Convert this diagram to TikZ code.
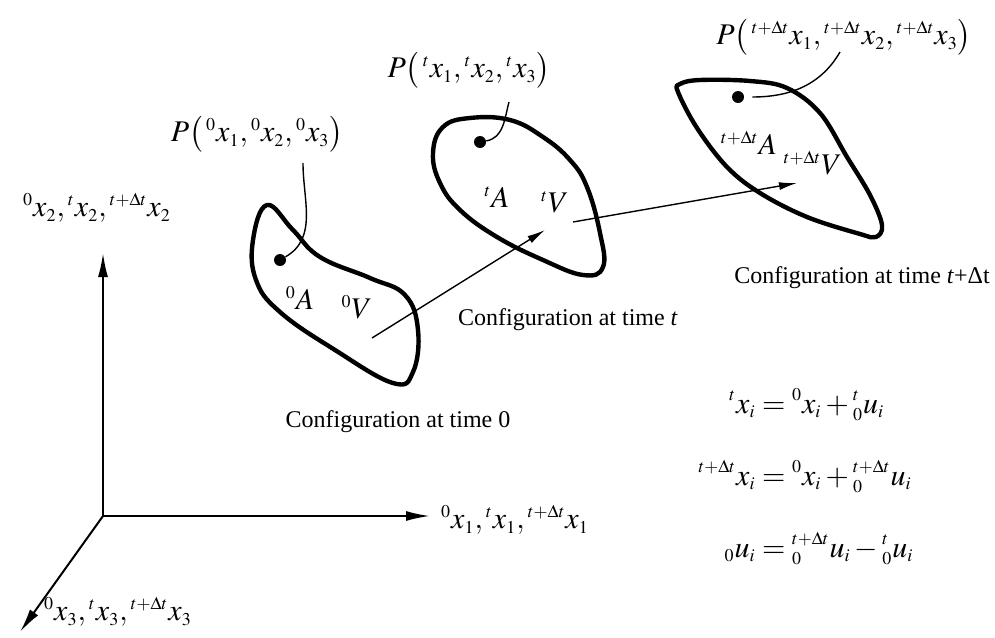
\documentclass[tikz,border=0pt]{standalone}
\usepackage{amsmath}
\usepackage{mathptmx}
\usepackage{fontspec}
\setmainfont{Liberation Serif}
\DeclareMathSizes{15}{15}{9}{7}
\usepackage{tikz}
\usetikzlibrary{arrows.meta}

\begin{document}
\begin{tikzpicture}[x=0.5pt, y=-0.5pt,
    caption/.style={font=\fontsize{12}{14}\selectfont},
    maths/.style={font=\fontsize{15}{18}\selectfont},
    body/.style={line width=2.2pt, line join=round},
    axis/.style={line width=1pt, -{Latex[length=12pt,width=5pt]}},
    move/.style={line width=0.7pt, -{Latex[length=9pt,width=4pt]}},
    lead/.style={line width=0.7pt},
    dot/.style={circle, fill, inner sep=0pt, minimum size=6pt}]
    \useasboundingbox (0,0) rectangle (995,637);

    \coordinate (origin) at (103,516);
    \coordinate (x1tip) at (430,516);
    \coordinate (x2tip) at (103,253);
    \coordinate (x3tip) at (20,632);
    \draw [axis] (origin) -- (x1tip);
    \draw [axis] (origin) -- (x2tip);
    \draw [axis] (origin) -- (x3tip);
    \node (x1lab) [maths] at (515,520) {${}^{0}x_1,{}^{t}x_1,{}^{t+\Delta t}x_1$};
    \node (x2lab) [maths] at (97,208) {${}^{0}x_2,{}^{t}x_2,{}^{t+\Delta t}x_2$};
    \node (x3lab) [maths] at (118,612) {${}^{0}x_3,{}^{t}x_3,{}^{t+\Delta t}x_3$};

    \draw [body] plot [smooth cycle, tension=0.7] coordinates {(267,205) (253,240) (256,280) (280,312) (335,350) (393,383) (413,372) (418,330) (405,295) (370,278) (320,257) (293,230)};
    \draw [body] plot [smooth cycle, tension=0.7] coordinates {(470,118) (443,127) (433,153) (440,183) (460,210) (497,237) (543,260) (583,275) (603,267) (600,233) (587,187) (570,160) (543,137) (510,120)};
    \draw [body] plot [smooth cycle, tension=0.6] coordinates {(680,84) (700,80) (750,81) (787,88) (820,113) (847,157) (870,195) (882,225) (876,237) (860,234) (807,217) (760,193) (727,167) (697,128) (678,92)};

    \node (dot0) [dot] at (280,260) {};
    \node (dot1) [dot] at (480,142) {};
    \node (dot2) [dot] at (738,97) {};
    \coordinate (tip0) at (303,163);
    \coordinate (tip1) at (509,102);
    \coordinate (tip2) at (840,52);
    \draw [lead] (dot0) to[out=30,in=-90] (tip0);
    \draw [lead] (dot1) to[out=10,in=-105] (tip1);
    \draw [lead, shorten <=4pt] (dot2) to[out=0,in=-120] (tip2);
    \node (p0) [maths] at (257,134) {$P\bigl(\,{}^{0}x_1,{}^{0}x_2,{}^{0}x_3\bigr)$};
    \node (p1) [maths] at (469,70) {$P\bigl(\,{}^{t}x_1,{}^{t}x_2,{}^{t}x_3\bigr)$};
    \node (p2) [maths, inner sep=1pt] at (844,37) {$P\bigl(\,{}^{t+\Delta t}x_1,{}^{t+\Delta t}x_2,{}^{t+\Delta t}x_3\bigr)$};

    \node (a0) [maths] at (300,298) {${}^{0}A$};
    \node (v0) [maths] at (357,307) {${}^{0}V$};
    \node (a1) [maths] at (497,197) {${}^{t}A$};
    \node (v1) [maths] at (555,202) {${}^{t}V$};
    \node (a2) [maths] at (749,143) {${}^{t+\Delta t}A$};
    \node (v2) [maths] at (813,163) {${}^{t+\Delta t}V$};

    \coordinate (from0) at (372,338);
    \coordinate (to1) at (545,230);
    \coordinate (from1) at (573,222);
    \coordinate (to2) at (797,183);
    \draw [move] (from0) -- (to1);
    \draw [move] (from1) -- (to2);

    \node (cap0) [caption] at (398,422) {Configuration at time 0};
    \node (cap1) [caption] at (568,320) {Configuration at time \textit{t}};
    \node (cap2) [caption] at (862,278) {Configuration at time \textit{t}+Δt};

    \node (eqs) [maths] at (806,478) {$\begin{aligned}
        {}^{t}x_i &= {}^{0}x_i + {}^{t}_{0}u_i \\[15pt]
        {}^{t+\Delta t}x_i &= {}^{0}x_i + {}^{t+\Delta t}_{0}u_i \\[15pt]
        {}_{0}u_i &= {}^{t+\Delta t}_{0}u_i - {}^{t}_{0}u_i
    \end{aligned}$};
\end{tikzpicture}
\end{document}
